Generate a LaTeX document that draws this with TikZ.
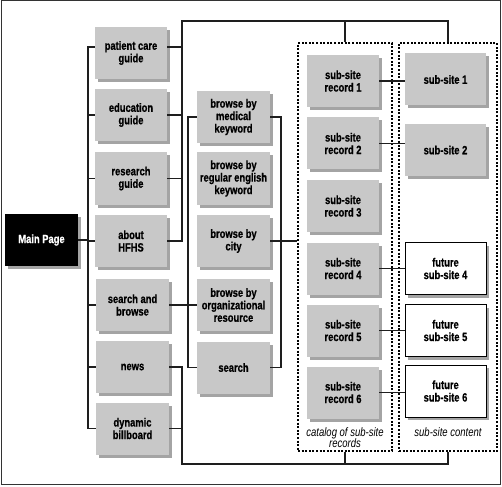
\documentclass[tikz,border=0pt]{standalone}
\usepackage{fontspec}
\setmainfont{Liberation Sans}[FakeStretch=0.78, BoldFeatures={FakeBold=0.7}]
\usetikzlibrary{shadows}
\definecolor{boxgray}{HTML}{C8C8C8}
\definecolor{shgray}{HTML}{A4A4A4}
\definecolor{linec}{HTML}{1E1E1E}
\begin{document}
\begin{tikzpicture}[x=1pt,y=-1pt,
  every node/.style={font=\bfseries\fontsize{12}{12.5}\selectfont, align=center, inner sep=0pt},
  gbox/.style={fill=boxgray, minimum width=72pt, minimum height=52pt,
    drop shadow={shadow xshift=3pt, shadow yshift=-3pt, fill=shgray, opacity=1}},
  wbox/.style={gbox, fill=white, draw=black, line width=0.9pt},
  conn/.style={draw=linec, line width=1.6pt},
  dotbox/.style={draw=black, line width=1.3pt, dash pattern=on 2pt off 1.6pt},
  lab/.style={font=\itshape\fontsize{12.2}{11.5}\selectfont}
]
\useasboundingbox (0,0) rectangle (502,486);
\draw[draw=black!80, line width=1pt] (1,1) rectangle (500,484);

% dotted containers
\node[dotbox, minimum width=94pt, minimum height=408pt] (cat) at (345,247) {};
\node[dotbox, minimum width=98pt, minimum height=408pt] (cont) at (448,247) {};

% main page
\node[gbox, fill=black, text=white, minimum width=73pt] (mp) at (41.5,240) {Main Page};

% column 1
\node[gbox] (pc) at (131,53) {patient care\\guide};
\node[gbox] (edu) at (131,115) {education\\guide};
\node[gbox] (res) at (131,178.5) {research\\guide};
\node[gbox] (about) at (131,241) {about\\HFHS};
\node[gbox, minimum width=73pt] (sb) at (132.5,305) {search and\\browse};
\node[gbox, minimum width=73pt] (news) at (132.5,367) {news};
\node[gbox, minimum width=73pt] (dyn) at (132.5,428.5) {dynamic\\billboard};

% column 2
\node[gbox, minimum width=73pt] (med) at (233.5,117) {browse by\\medical\\keyword};
\node[gbox, minimum width=73pt] (reg) at (233.5,178.5) {browse by\\regular english\\keyword};
\node[gbox, minimum width=73pt] (city) at (233.5,241) {browse by\\city};
\node[gbox, minimum width=73pt] (org) at (233.5,305) {browse by\\organizational\\resource};
\node[gbox, minimum width=73pt] (srch) at (233.5,367.5) {search};

% records
\node[gbox] (r1) at (343,81) {sub-site\\record 1};
\node[gbox] (r2) at (343,143.5) {sub-site\\record 2};
\node[gbox] (r3) at (343,206) {sub-site\\record 3};
\node[gbox] (r4) at (343,268.5) {sub-site\\record 4};
\node[gbox] (r5) at (343,330.5) {sub-site\\record 5};
\node[gbox] (r6) at (343,392.5) {sub-site\\record 6};

% sub-sites
\node[gbox, minimum width=81pt] (s1) at (445.5,79.5) {sub-site 1};
\node[gbox, minimum width=81pt] (s2) at (445.5,150) {sub-site 2};
\node[wbox, minimum width=81pt] (s4) at (445.5,268.5) {future\\sub-site 4};
\node[wbox, minimum width=81pt] (s5) at (445.5,330.5) {future\\sub-site 5};
\node[wbox, minimum width=81pt] (s6) at (445.5,391) {future\\sub-site 6};

% labels
\node[lab] (catlab) at (345,437.5) {catalog of sub-site\\records};
\node[lab] (contlab) at (448,432) {sub-site content};

% helper coordinates
\coordinate (Lx) at (88,0);
\coordinate (Rx) at (182,0);
\coordinate (L2) at (188,0);
\coordinate (R2) at (281,0);
\coordinate (T) at (0,21);
\coordinate (B) at (0,464);
\coordinate (pcW) at ([yshift=6pt]pc.west);
\coordinate (pcE) at ([yshift=6pt]pc.east);

% left bracket
\draw[conn] (pcW) -- (pcW -| Lx) |- (dyn.west);
\foreach \n in {edu,res,about,sb,news} \draw[conn] (\n.west) -- (\n.west -| Lx);
\draw[conn] (mp.east) -- (mp.east -| Lx);

% right upper bus
\draw[conn] (pcE) -- (pcE -| Rx);
\foreach \n in {edu,res} \draw[conn] (\n.east) -- (\n.east -| Rx);
\draw[conn] (about.east) -- (about.east -| Rx) -- (Rx |- T) -| (cont.north);
\draw[conn] (cat.north) -- (cat.north |- T);

% right lower bus
\draw[conn] (news.east) -- (news.east -| Rx) -- (Rx |- B) -| (cont.south);
\draw[conn] (dyn.east) -- (dyn.east -| Rx);
\draw[conn] (cat.south) -- (cat.south |- B);

% column 2 brackets
\draw[conn] (med.west) -- (med.west -| L2) |- (srch.west);
\draw[conn] (med.east) -- (med.east -| R2) |- (srch.east);
\draw[conn] (sb.east) -- (org.west);
\draw[conn] (city.east) -- (city.east -| cat.west);

% records to sub-sites
\draw[conn] (r1.east) -- (r1.east -| s1.west);
\draw[conn] (r2.east) -- (r2.east -| s2.west);
\draw[conn] (r4.east) -- (r4.east -| s4.west);
\draw[conn] (r5.east) -- (r5.east -| s5.west);
\draw[conn] (r6.east) -- (r6.east -| s6.west);
\end{tikzpicture}
\end{document}
